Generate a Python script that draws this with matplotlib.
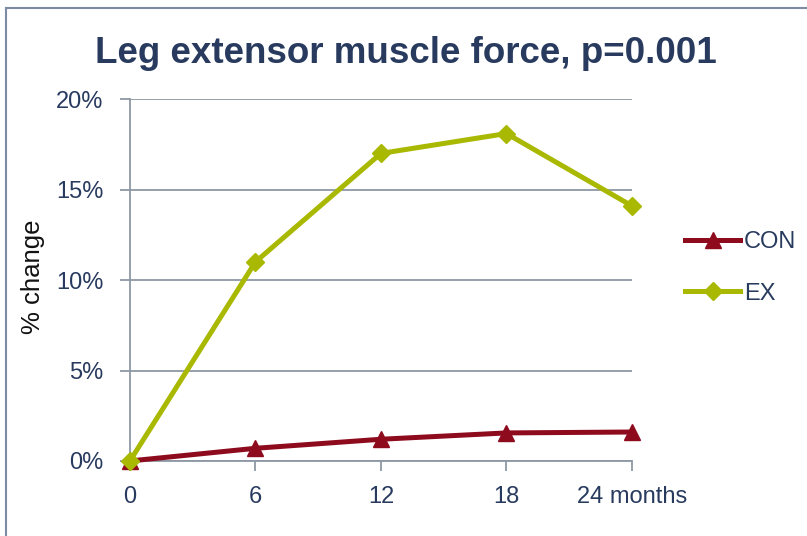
import matplotlib
matplotlib.use("Agg")
import matplotlib.pyplot as plt
from matplotlib.lines import Line2D

plt.rcParams['font.family'] = ['Liberation Sans', 'DejaVu Sans']

# datos
meses = [0, 6, 12, 18, 24]
etiquetas_x = ['0', '6', '12', '18', '24 months']
con = [0.0, 0.7, 1.2, 1.55, 1.6]
ex = [0.0, 11.0, 17.0, 18.1, 14.1]
ticks_y = [0, 5, 10, 15, 20]

azul = '#283A5E'
gris = '#8E98A5'
rojo = '#8E0B1E'
verde = '#A9B800'

fig = plt.figure(figsize=(8.07, 5.36), dpi=100, facecolor='white')
ax = fig.add_axes([0.161, 0.14, 0.622, 0.675])

ax.plot(meses, con, color=rojo, lw=3.6, marker='^', ms=11, label='CON',
        clip_on=False, zorder=4)
ax.plot(meses, ex, color=verde, lw=3.6, marker='D', ms=9, label='EX',
        clip_on=False, zorder=5)

ax.set_xlim(0, 24)
ax.set_ylim(0, 20)
ax.set_xticks(meses)
ax.set_xticklabels(etiquetas_x)
ax.set_yticks(ticks_y)
ax.set_yticklabels([f'{v}%' for v in ticks_y])
ax.grid(axis='y', color=gris, lw=1.3)
ax.set_axisbelow(True)

for lado in ['top', 'right']:
    ax.spines[lado].set_visible(False)
for lado in ['left', 'bottom']:
    ax.spines[lado].set_color(gris)
    ax.spines[lado].set_linewidth(1.3)
ax.tick_params(colors=gris, labelcolor=azul, labelsize=17, length=7, width=1.3)
ax.tick_params(axis='y', pad=12)
ax.tick_params(axis='x', pad=11)

ax.set_ylabel('% change', fontsize=18.5, color='#111111')
ax.yaxis.set_label_coords(-0.169, 0.51)

fig.text(0.503, 1 - 63 / 536, 'Leg extensor muscle force, p=0.001', ha='center',
         va='baseline', fontsize=26.5, fontweight='bold', color=azul)

leg = fig.legend(loc='center left', bbox_to_anchor=(685 / 807, 1 - 268 / 536),
                 frameon=False, fontsize=17, handlelength=2.35,
                 handletextpad=0.15, labelspacing=1.25, borderpad=0,
                 borderaxespad=0)
for t in leg.get_texts():
    t.set_color(azul)

# borde del marco
fig.add_artist(Line2D([0.0075, 1.0], [0.985, 0.985], color='#7C8BA3', lw=1.5,
                      transform=fig.transFigure))
fig.add_artist(Line2D([0.0075, 0.0075], [0.0, 0.985], color='#7C8BA3', lw=1.5,
                      transform=fig.transFigure))

fig.savefig('out.png', dpi=100, facecolor='white')
